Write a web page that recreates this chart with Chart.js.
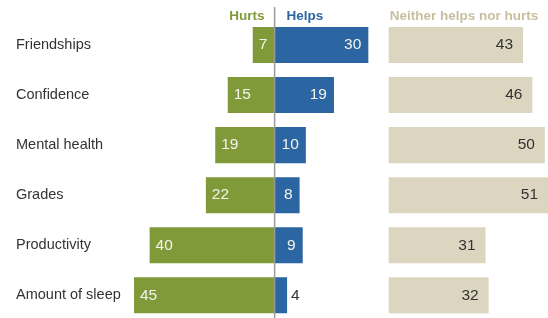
<!DOCTYPE html>
<html>
<head>
<meta charset="utf-8">
<script src="https://cdn.jsdelivr.net/npm/chart.js@4"></script>
<style>
  html, body { margin: 0; padding: 0; background: #fff; overflow: hidden; }
  #wrap { position: relative; width: 548px; height: 329px; }
</style>
</head>
<body>
<div id="wrap"><canvas id="chart"></canvas></div>
<script>
const categories = ["Friendships", "Confidence", "Mental health", "Grades", "Productivity", "Amount of sleep"];
const hurts = [7, 15, 19, 22, 40, 45];
const helps = [30, 19, 10, 8, 9, 4];
const neither = [43, 46, 50, 51, 31, 32];

const GREEN = "#809a3a";
const BLUE = "#2b65a2";
const TAN = "#dcd6c0";
const NEITHER_START = 36.5;

// zero line + column headers
const headers = {
    id: "headers",
    afterDatasetsDraw(chart) {
        const ctx = chart.ctx;
        const x = chart.scales.x;
        const zero = x.getPixelForValue(0);
        const nStart = x.getPixelForValue(NEITHER_START);

        ctx.save();
        ctx.strokeStyle = "#9a9a9a";
        ctx.lineWidth = 1.5;
        ctx.beginPath();
        ctx.moveTo(zero, 7);
        ctx.lineTo(zero, chart.height);
        ctx.stroke();

        ctx.font = "bold 13.5px 'Liberation Sans', Arial, sans-serif";
        ctx.textBaseline = "alphabetic";
        ctx.textAlign = "right";
        ctx.fillStyle = GREEN;
        ctx.fillText("Hurts", zero - 10, 20);
        ctx.textAlign = "left";
        ctx.fillStyle = BLUE;
        ctx.fillText("Helps", zero + 12, 20);
        ctx.fillStyle = "#c6c09f";
        ctx.fillText("Neither helps nor hurts", nStart + 1, 20);
        ctx.restore();
    }
};

// value labels on bars
const valueLabels = {
    id: "valueLabels",
    afterDatasetsDraw(chart) {
        const ctx = chart.ctx;
        ctx.save();
        ctx.font = "15.5px 'Liberation Sans', Arial, sans-serif";
        ctx.textBaseline = "middle";

        chart.data.datasets.forEach((ds, i) => {
            const meta = chart.getDatasetMeta(i);
            meta.data.forEach((bar, j) => {
                const v = ds.values[j];
                const w = Math.abs(bar.x - bar.base);
                if(ds.key === "hurts"){
                    ctx.textAlign = "left";
                    ctx.fillStyle = "#f4f4ee";
                    ctx.fillText(v, bar.x + 6, bar.y);
                } else if(ds.key === "helps"){
                    if(w < 20){
                        ctx.textAlign = "left";
                        ctx.fillStyle = "#333";
                        ctx.fillText(v, bar.x + 4, bar.y);
                    } else {
                        ctx.textAlign = "right";
                        ctx.fillStyle = "#f4f4ee";
                        ctx.fillText(v, bar.x - 7, bar.y);
                    }
                } else {
                    ctx.textAlign = "right";
                    ctx.fillStyle = "#333";
                    ctx.fillText(v, bar.x - 10, bar.y);
                }
            });
        });
        ctx.restore();
    }
};

new Chart(document.getElementById("chart"), {
    type: "bar",
    data: {
        labels: categories,
        datasets: [
            {
                key: "hurts",
                values: hurts,
                data: hurts.map(v => -v),
                backgroundColor: GREEN
            },
            {
                key: "helps",
                values: helps,
                data: helps,
                backgroundColor: BLUE
            },
            {
                key: "neither",
                values: neither,
                data: neither.map(v => [NEITHER_START, NEITHER_START + v]),
                backgroundColor: TAN
            }
        ]
    },
    options: {
        indexAxis: "y",
        responsive: true,
        maintainAspectRatio: false,
        animation: false,
        layout: {
            padding: { left: 16, top: 20, right: 0, bottom: 0 }
        },
        datasets: {
            bar: {
                grouped: false,
                barPercentage: 0.72,
                categoryPercentage: 1
            }
        },
        scales: {
            x: {
                display: false,
                min: -45,
                max: 87.5
            },
            y: {
                grid: { display: false },
                border: { display: false },
                ticks: {
                    crossAlign: "far",
                    padding: 0,
                    color: "#333",
                    font: { family: "'Liberation Sans', Arial, sans-serif", size: 14.5 }
                },
                afterFit(scale) {
                    scale.width = 118;
                }
            }
        },
        plugins: {
            legend: { display: false },
            tooltip: { enabled: false }
        }
    },
    plugins: [headers, valueLabels]
});
</script>
</body>
</html>
